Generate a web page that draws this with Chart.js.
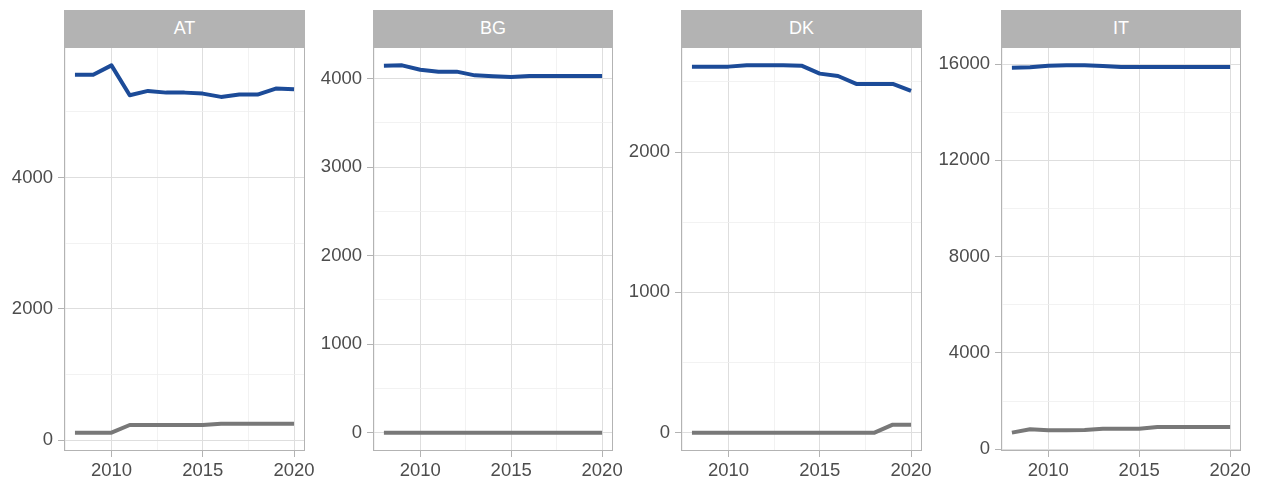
<!DOCTYPE html>
<html>
<head>
<meta charset="utf-8">
<script src="https://cdn.jsdelivr.net/npm/chart.js@4/dist/chart.umd.min.js"></script>
<style>
  html, body { margin: 0; padding: 0; background: #ffffff; }
  body { width: 1261px; height: 482px; position: relative; overflow: hidden;
         font-family: "Liberation Sans", Arial, Helvetica, sans-serif; }
  .strip { position: absolute; top: 10px; height: 37px; background: #b3b3b3; color: #ffffff;
           font-size: 18px; line-height: 37px; text-align: center; }
  canvas { position: absolute; top: 40px; }
</style>
</head>
<body>
<script>
// ---------------- DATA ----------------
const years = [2008, 2009, 2010, 2011, 2012, 2013, 2014, 2015, 2016, 2017, 2018, 2019, 2020];
const countries = ["AT", "BG", "DK", "IT"];

const AT_blue = [5565, 5565, 5707, 5253, 5318, 5292, 5292, 5277, 5227, 5262, 5262, 5353, 5343];
const AT_grey = [116, 116, 116, 232, 232, 232, 232, 232, 253, 253, 253, 253, 253];

const BG_blue = [4146, 4150, 4101, 4079, 4079, 4037, 4026, 4019, 4030, 4030, 4030, 4030, 4030];
const BG_grey = [0, 0, 0, 0, 0, 0, 0, 0, 0, 0, 0, 0, 0];

const DK_blue = [2609, 2609, 2609, 2618, 2618, 2618, 2616, 2559, 2542, 2486, 2486, 2486, 2436];
const DK_grey = [0, 0, 0, 0, 0, 0, 0, 0, 0, 0, 0, 57, 57];

const IT_blue = [15848, 15862, 15931, 15945, 15945, 15917, 15876, 15876, 15876, 15876, 15876, 15876, 15876];
const IT_grey = [690, 828, 786, 790, 800, 855, 855, 855, 924, 924, 924, 924, 924];

// tick labels (major) and minor grid breaks
const xMajor = [2010, 2015, 2020];
const xMinor = [2007.5, 2012.5, 2017.5];
const AT_yMajor = [0, 2000, 4000];
const AT_yMinor = [1000, 3000, 5000];
const BG_yMajor = [0, 1000, 2000, 3000, 4000];
const BG_yMinor = [500, 1500, 2500, 3500];
const DK_yMajor = [0, 1000, 2000];
const DK_yMinor = [500, 1500, 2500];
const IT_yMajor = [0, 4000, 8000, 12000, 16000];
const IT_yMinor = [2000, 6000, 10000, 14000];

// ---------------- LAYOUT ----------------
const panels = [
  { name: countries[0], blue: AT_blue, grey: AT_grey, yMajor: AT_yMajor, yMinor: AT_yMinor, L: 64,  R: 305 },
  { name: countries[1], blue: BG_blue, grey: BG_grey, yMajor: BG_yMajor, yMinor: BG_yMinor, L: 373, R: 613 },
  { name: countries[2], blue: DK_blue, grey: DK_grey, yMajor: DK_yMajor, yMinor: DK_yMinor, L: 681, R: 922 },
  { name: countries[3], blue: IT_blue, grey: IT_grey, yMajor: IT_yMajor, yMinor: IT_yMinor, L: 1001, R: 1241 }
];

const BLUE = "#1c4b98";
const GREY = "#787878";
const TICKTXT = "#4d4d4d";
const BORDER = "#b3b3b3";
const GRID_MAJOR = "#dedede";
const GRID_MINOR = "#efefef";
const FONT = { family: "'Liberation Sans', Arial, Helvetica, sans-serif", size: 18.5 };

const AXIS_W = 64, PAD_R = 25, PAD_T = 7, XAXIS_H = 31, CANVAS_H = 442;

const borderPlugin = {
  id: "panelBorder",
  afterDatasetsDraw(chart) {
    const a = chart.chartArea, ctx = chart.ctx;
    ctx.save();
    ctx.strokeStyle = BORDER;
    ctx.lineWidth = 1;
    ctx.strokeRect(a.left + 0.5, a.top + 0.5, a.right - a.left - 1, a.bottom - a.top - 1);
    ctx.restore();
  }
};

panels.forEach(p => {
  const strip = document.createElement("div");
  strip.className = "strip";
  strip.style.left = p.L + "px";
  strip.style.width = (p.R - p.L) + "px";
  strip.textContent = p.name;
  document.body.appendChild(strip);

  const cv = document.createElement("canvas");
  const w = (p.R - p.L) + AXIS_W + PAD_R;
  cv.width = w; cv.height = CANVAS_H;
  cv.style.left = (p.L - AXIS_W) + "px";
  cv.style.width = w + "px"; cv.style.height = CANVAS_H + "px";
  document.body.appendChild(cv);

  const all = p.blue.concat(p.grey);
  const mn = Math.min(...all), mx = Math.max(...all);
  const ex = 0.05 * (mx - mn);
  const xex = 0.05 * (years[years.length - 1] - years[0]);

  const ds = (vals, col) => ({
    data: years.map((y, i) => ({ x: y, y: vals[i] })),
    borderColor: col, backgroundColor: col, borderWidth: 4,
    borderJoinStyle: "round", borderCapStyle: "butt",
    pointRadius: 0, pointHoverRadius: 0, tension: 0, fill: false
  });

  new Chart(cv, {
    type: "line",
    data: { datasets: [ds(p.grey, GREY), ds(p.blue, BLUE)] },
    options: {
      responsive: false, maintainAspectRatio: false, animation: false,
      events: [],
      layout: { padding: { top: PAD_T, right: PAD_R, left: 0, bottom: 0 } },
      plugins: { legend: { display: false }, tooltip: { enabled: false }, title: { display: false } },
      scales: {
        x: {
          type: "linear",
          min: years[0] - xex, max: years[years.length - 1] + xex,
          afterBuildTicks: s => { s.ticks = xMinor.concat(xMajor).sort((a, b) => a - b).map(v => ({ value: v })); },
          afterFit: s => { s.height = XAXIS_H; s.paddingLeft = 0; s.paddingRight = 0; },
          ticks: {
            autoSkip: false, maxRotation: 0, color: TICKTXT, font: FONT, padding: 3,
            callback: v => xMajor.includes(v) ? String(v) : ""
          },
          grid: {
            drawTicks: true, tickLength: 6,
            color: c => (c.tick && xMajor.includes(c.tick.value)) ? GRID_MAJOR : GRID_MINOR,
            lineWidth: c => (c.tick && xMajor.includes(c.tick.value)) ? 1 : 0.8,
            tickColor: c => (c.tick && xMajor.includes(c.tick.value)) ? BORDER : "rgba(0,0,0,0)",
            tickWidth: 1
          },
          border: { display: false }
        },
        y: {
          type: "linear",
          min: mn - ex, max: mx + ex,
          afterBuildTicks: s => { s.ticks = p.yMinor.concat(p.yMajor).sort((a, b) => a - b).map(v => ({ value: v })); },
          afterFit: s => { s.width = AXIS_W; s.paddingTop = 0; s.paddingBottom = 0; },
          ticks: {
            autoSkip: false, color: TICKTXT, font: FONT, padding: 5,
            callback: v => p.yMajor.includes(v) ? String(v) : ""
          },
          grid: {
            drawTicks: true, tickLength: 6,
            color: c => (c.tick && p.yMajor.includes(c.tick.value)) ? GRID_MAJOR : GRID_MINOR,
            lineWidth: c => (c.tick && p.yMajor.includes(c.tick.value)) ? 1 : 0.8,
            tickColor: c => (c.tick && p.yMajor.includes(c.tick.value)) ? BORDER : "rgba(0,0,0,0)",
            tickWidth: 1
          },
          border: { display: false }
        }
      }
    },
    plugins: [borderPlugin]
  });
});
</script>
</body>
</html>
